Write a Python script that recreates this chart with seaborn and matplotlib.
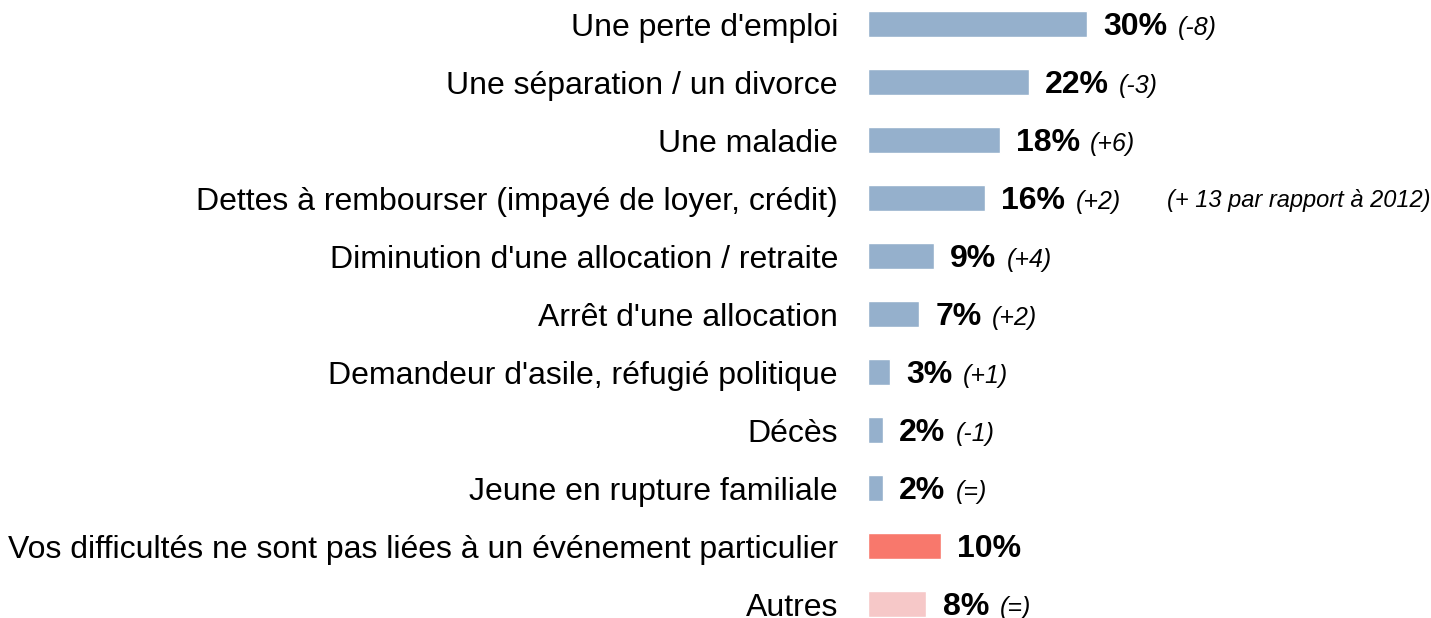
import numpy as np
import pandas as pd
import matplotlib.pyplot as plt
import seaborn as sns

categories = ["Une perte d'emploi", "Une séparation / un divorce", "Une maladie",
              "Dettes à rembourser (impayé de loyer, crédit)",
              "Diminution d'une allocation / retraite", "Arrêt d'une allocation",
              "Demandeur d'asile, réfugié politique", "Décès",
              "Jeune en rupture familiale",
              "Vos difficultés ne sont pas liées à un événement particulier",
              "Autres"]
values = [30, 22, 18, 16, 9, 7, 3, 2, 2, 10, 8]
changes = ["(-8)", "(-3)", "(+6)", "(+2)", "(+4)", "(+2)", "(+1)", "(-1)", "(=)", "", "(=)"]
colors = ["#95B0CC"] * 9 + ["#F8786C", "#F6C8C8"]
note = "(+ 13 par rapport à 2012)"

sns.set_style('white')
plt.rcParams['font.family'] = ['Liberation Sans', 'DejaVu Sans']
plt.rcParams['text.color'] = 'black'

df = pd.DataFrame({'cat': categories, 'val': values})

fig = plt.figure(figsize=(14.31, 6.18), dpi=100)
ax = fig.add_axes([868/1431, 0, 563/1431, 1])
sns.barplot(data=df, x='val', y='cat', hue='cat', palette=colors, legend=False,
            orient='h', width=0.44, saturation=1, ax=ax)

ax.set_xlim(0, 563/7.31)
ax.set_ylim(10 + 14/58, -24/58)
sns.despine(ax=ax, left=True, bottom=True)
ax.set_xticks([])
ax.set_xlabel('')
ax.set_ylabel('')
ax.tick_params(axis='y', length=0, pad=21.6, labelsize=23, labelcolor='black')

for i, (v, c) in enumerate(zip(values, changes)):
    t = ax.text(v + 2.2, i + 0.19, f"{v}%", fontsize=23, fontweight='bold', va='baseline', ha='left')
    if c:
        ax.annotate(c, xy=(1, i + 0.19), xycoords=(t, 'data'), xytext=(7.5, 0),
                    textcoords='offset points', fontsize=18, fontstyle='italic', va='baseline')

ax.text(0.999, 3 + 0.15, note, transform=ax.get_yaxis_transform(), fontsize=17,
        fontstyle='italic', ha='right', va='baseline')

plt.savefig('out.png', dpi=100)
